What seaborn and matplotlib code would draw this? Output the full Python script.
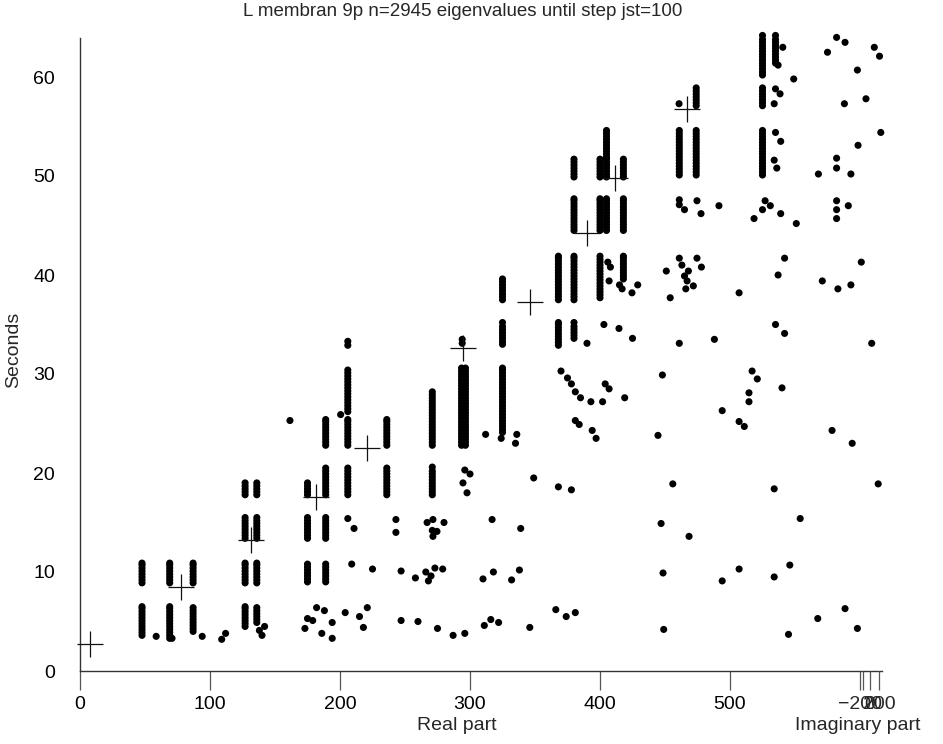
import matplotlib
matplotlib.use("Agg")
import matplotlib.pyplot as plt
import seaborn as sns
import pandas as pd

# ---------------- data ----------------
title = "L membran 9p n=2945 eigenvalues until step jst=100"

# stacked runs of eigenvalues: x (real part) and the seconds at which they appear
run_x = [47.7, 47.7, 69, 69, 87, 87,
         127, 127, 127, 127, 136, 136, 136, 136,
         175, 175, 175, 189, 189, 189, 189,
         206, 206, 206, 206, 236, 236, 271, 271,
         294, 293.5, 296.5, 325, 325, 325, 368, 368,
         380, 380, 380, 380, 400, 400, 400, 405, 405, 405, 418, 418, 418,
         461, 474, 474, 525, 525, 525, 535]
run_y = [
    [8.9, 9.2, 9.5, 9.8, 10.1, 10.4, 10.7, 10.9],
    [3.6, 3.9, 4.2, 4.5, 4.8, 5.1, 5.4, 5.7, 6.0, 6.3, 6.5],
    [8.9, 9.2, 9.5, 9.8, 10.1, 10.4, 10.7, 10.9],
    [3.3, 3.6, 3.9, 4.2, 4.5, 4.8, 5.1, 5.4, 5.7, 6.0, 6.3, 6.5],
    [8.9, 9.2, 9.5, 9.8, 10.1, 10.4, 10.7, 10.9],
    [4.0, 4.3, 4.6, 4.9, 5.2, 5.5, 5.8, 6.1, 6.4],
    [17.8, 18.1, 18.4, 18.7, 19.0],
    [13.4, 13.7, 14.0, 14.3, 14.6, 14.9, 15.2, 15.5],
    [8.9, 9.2, 9.5, 9.8, 10.1, 10.4, 10.7, 10.9],
    [4.5, 4.8, 5.1, 5.4, 5.7, 6.0, 6.3, 6.5],
    [17.8, 18.1, 18.4, 18.7, 19.0],
    [13.4, 13.7, 14.0, 14.3, 14.6, 14.9, 15.2, 15.5],
    [8.9, 9.2, 9.5, 9.8, 10.1, 10.4, 10.7, 10.9],
    [4.9, 5.2, 5.5, 5.8, 6.1, 6.4],
    [17.8, 18.1, 18.4, 18.7, 19.0],
    [13.4, 13.7, 14.0, 14.3, 14.6, 14.9, 15.2, 15.5],
    [9.0, 9.3, 9.6, 9.9, 10.2, 10.5, 10.8],
    [22.8, 23.1, 23.4, 23.7, 24.0, 24.3, 24.6, 24.9, 25.2, 25.4],
    [17.8, 18.1, 18.4, 18.7, 19.0, 19.3, 19.6, 19.9, 20.2, 20.5],
    [13.4, 13.7, 14.0, 14.3, 14.6, 14.9, 15.2, 15.5],
    [9.0, 9.3, 9.6, 9.9, 10.2, 10.5, 10.8],
    [32.9, 33.3],
    [26.2, 26.5, 26.8, 27.1, 27.4, 27.7, 28.0, 28.3, 28.6, 28.9, 29.2, 29.5, 29.8, 30.1, 30.4],
    [22.8, 23.1, 23.4, 23.7, 24.0, 24.3, 24.6, 24.9, 25.2, 25.4],
    [17.8, 18.1, 18.4, 18.7, 19.0, 19.3, 19.6, 19.9, 20.2, 20.5],
    [22.8, 23.1, 23.4, 23.7, 24.0, 24.3, 24.6, 24.9, 25.2, 25.4],
    [17.8, 18.1, 18.4, 18.7, 19.0, 19.3, 19.6, 19.9, 20.2, 20.5],
    [22.8, 23.1, 23.4, 23.7, 24.0, 24.3, 24.6, 24.9, 25.2, 25.5, 25.8, 26.1, 26.4, 26.7, 27.0, 27.3, 27.6, 27.9, 28.2],
    [17.8, 18.1, 18.4, 18.7, 19.0, 19.3, 19.6, 19.9, 20.2, 20.6],
    [33.1, 33.5],
    [22.8, 23.1, 23.4, 23.7, 24.0, 24.3, 24.6, 24.9, 25.2, 25.5, 25.8, 26.1, 26.4, 26.7, 27.0, 27.3, 27.6, 27.9, 28.2, 28.5, 28.8, 29.1, 29.4, 29.7, 30.0, 30.3, 30.6],
    [22.8, 23.1, 23.4, 23.7, 24.0, 24.3, 24.6, 24.9, 25.2, 25.5, 25.8, 26.1, 26.4, 26.7, 27.0, 27.3, 27.6, 27.9, 28.2, 28.5, 28.8, 29.1, 29.4, 29.7, 30.0, 30.3, 30.6],
    [37.5, 37.8, 38.1, 38.4, 38.7, 39.0, 39.3, 39.6],
    [33.0, 33.3, 33.6, 33.9, 34.2, 34.5, 34.8, 35.2],
    [24.1, 24.4, 24.7, 25.0, 25.3, 25.6, 25.9, 26.2, 26.5, 26.8, 27.1, 27.4, 27.7, 28.0, 28.3, 28.6, 28.9, 29.2, 29.5, 29.8, 30.1, 30.4, 30.6],
    [37.5, 37.8, 38.1, 38.4, 38.7, 39.0, 39.3, 39.6, 39.9, 40.2, 40.5, 40.8, 41.1, 41.4, 41.7, 41.9],
    [32.9, 33.2, 33.5, 33.8, 34.1, 34.4, 34.7, 35.0, 35.2],
    [49.9, 50.2, 50.5, 50.8, 51.1, 51.4, 51.7],
    [44.5, 44.8, 45.1, 45.4, 45.7, 46.0, 46.3, 46.6, 46.9, 47.2, 47.5, 47.7],
    [37.5, 37.8, 38.1, 38.4, 38.7, 39.0, 39.3, 39.6, 39.9, 40.2, 40.5, 40.8, 41.1, 41.4, 41.7, 41.9],
    [33.6, 33.9, 34.2, 34.5, 34.8, 35.2],
    [49.9, 50.2, 50.5, 50.8, 51.1, 51.4, 51.7],
    [44.5, 44.8, 45.1, 45.4, 45.7, 46.0, 46.3, 46.6, 46.9, 47.2, 47.5, 47.7],
    [37.7, 38.0, 38.3, 38.6, 38.9, 39.2, 39.5, 39.8, 40.1, 40.4, 40.7, 41.0, 41.3, 41.6, 41.9],
    [51.9, 52.2, 52.5, 52.8, 53.1, 53.4, 53.7, 54.0, 54.3, 54.6],
    [49.9, 50.2, 50.5, 50.8, 51.1, 51.4, 51.7],
    [44.5, 44.8, 45.1, 45.4, 45.7, 46.0, 46.3, 46.6, 46.9, 47.2, 47.5, 47.7],
    [49.9, 50.2, 50.5, 50.8, 51.1, 51.4, 51.7],
    [44.5, 44.8, 45.1, 45.4, 45.7, 46.0, 46.3, 46.6, 46.9, 47.2, 47.5, 47.7],
    [39.6, 39.9, 40.2, 40.5, 40.8, 41.1, 41.4, 41.7, 41.9],
    [50.1, 50.4, 50.7, 51.0, 51.3, 51.6, 51.9, 52.2, 52.5, 52.8, 53.1, 53.4, 53.7, 54.0, 54.3, 54.6],
    [57.1, 57.4, 57.7, 58.0, 58.3, 58.6, 58.9],
    [50.1, 50.4, 50.7, 51.0, 51.3, 51.6, 51.9, 52.2, 52.5, 52.8, 53.1, 53.4, 53.7, 54.0, 54.3, 54.6],
    [60.2, 60.5, 60.8, 61.1, 61.4, 61.7, 62.0, 62.3, 62.6, 62.9, 63.2, 63.5, 63.8, 64.2],
    [57.1, 57.4, 57.7, 58.0, 58.3, 58.6, 58.9],
    [50.1, 50.4, 50.7, 51.0, 51.3, 51.6, 51.9, 52.2, 52.5, 52.8, 53.1, 53.4, 53.7, 54.0, 54.3, 54.6],
    [61.4, 61.7, 62.0, 62.3, 62.6, 62.9, 63.2, 63.5, 63.8, 64.2],
]

# isolated eigenvalues (real part, seconds)
single_x = [58.6, 94, 109, 112, 138, 142, 140, 70.8,
            161.5, 200.5, 209, 225, 206, 210.8,
            173, 175, 179, 182, 188, 186, 194, 194, 204, 215, 218, 221,
            243, 243, 267, 271.5, 271, 274.6, 280, 271.5,
            296, 300, 294.6, 297.7, 312, 324, 336, 335, 349, 317, 339,
            247, 258, 266, 270, 273, 279, 268, 310, 318, 332, 338,
            247, 260, 275, 287, 296, 311, 316, 322, 346,
            366, 374, 381, 368, 378,
            381, 384, 394, 397,
            370, 375, 378, 381, 385, 393, 402, 404, 407, 419,
            403, 414.6, 425, 390, 406, 408, 407, 415, 417, 424.6, 429,
            461, 461, 465, 474.6, 477.7, 491.5, 461, 463, 474.6, 478, 451, 468, 465, 467, 466, 471.8, 454, 507, 461, 488, 460.8,
            540.6, 537, 535, 538.5, 534, 535, 539, 534, 536, 549,
            527, 531, 525, 518.5, 539, 551, 542, 537, 535, 542,
            582, 588.5, 575, 611, 615, 598, 588, 604.6, 616, 598.5, 582, 582, 568, 593, 582, 582, 582, 591,
            601, 571, 583, 593, 609,
            448, 517, 521, 540, 514.6, 514.6, 494, 507, 511, 444.6, 578.5, 594,
            456, 534, 614, 447, 468.5, 554, 448.5, 494, 507, 534, 546,
            449, 545, 567.5, 588.5, 598]
single_y = [3.5, 3.5, 3.2, 3.8, 4.1, 4.5, 3.6, 3.3,
            25.3, 25.9, 10.8, 10.3, 15.4, 14.4,
            4.3, 5.3, 5.1, 6.4, 6.1, 3.8, 4.9, 3.3, 5.9, 5.5, 4.4, 6.4,
            15.3, 14.0, 15.0, 15.3, 14.2, 14.1, 15.0, 13.6,
            20.3, 19.9, 19.0, 18.0, 23.9, 23.5, 23.9, 23.0, 19.5, 15.3, 14.4,
            10.1, 9.4, 10.0, 9.6, 10.4, 10.3, 9.1, 9.3, 10.0, 9.2, 10.2,
            5.1, 5.0, 4.3, 3.6, 3.8, 4.6, 5.2, 4.9, 4.4,
            6.2, 5.5, 5.9, 18.6, 18.3,
            25.3, 24.9, 24.3, 23.5,
            30.3, 29.6, 29.0, 28.2, 27.6, 27.2, 27.2, 29.0, 28.5, 27.6,
            35.0, 34.6, 33.6, 33.1, 41.3, 40.8, 39.4, 39.0, 38.6, 38.2, 39.0,
            47.6, 47.1, 46.6, 47.5, 46.2, 47.0, 41.7, 41.0, 41.7, 40.8, 40.4, 40.4, 39.9, 39.4, 38.6, 38.9, 37.7, 38.2, 33.1, 33.5, 57.3,
            63.0, 61.2, 58.8, 58.3, 57.3, 54.4, 53.5, 51.6, 50.8, 59.8,
            47.5, 47.0, 46.6, 45.7, 46.2, 45.2, 41.7, 40.0, 35.0, 34.1,
            64.0, 63.5, 62.5, 63.0, 62.1, 60.7, 57.3, 57.8, 54.4, 53.1, 51.8, 50.8, 50.2, 50.2, 47.5, 46.6, 45.7, 47.0,
            41.3, 39.4, 38.6, 39.0, 33.1,
            29.9, 30.3, 29.5, 28.6, 28.1, 27.2, 26.3, 25.2, 24.7, 23.8, 24.3, 23.0,
            18.9, 18.4, 18.9, 14.9, 13.6, 15.4, 9.9, 9.1, 10.3, 9.5, 10.7,
            4.2, 3.7, 5.3, 6.3, 4.3]

# step markers (+)
step_x = [7.7, 78, 131.5, 181.5, 221, 294.6, 346, 390, 411.5, 467]
step_y = [2.7, 8.5, 13.2, 17.6, 22.5, 32.6, 37.3, 44.2, 49.8, 56.8]

real_ticks = [0, 100, 200, 300, 400, 500]
sec_ticks = [0, 10, 20, 30, 40, 50, 60]
imag_ticks = [-200, -145, 0, 200]
imag_labels = ["\u2212200", "", "0", "200"]

# ---------------- build frames ----------------
dx, dy = [], []
for xv, ys in zip(run_x, run_y):
    for yv in ys:
        dx.append(xv)
        dy.append(yv)
dots = pd.DataFrame({"real": dx + single_x, "sec": dy + single_y})
steps = pd.DataFrame({"real": step_x, "sec": step_y})

# ---------------- plot ----------------
sns.set_theme(style="white")
plt.rcParams['font.family'] = ['Liberation Sans', 'DejaVu Sans']

W, H = 943, 744
fig = plt.figure(figsize=(W / 100, H / 100), dpi=100)
ax = fig.add_axes([80 / W, 73 / H, 802 / W, 633 / H])

sns.scatterplot(data=dots, x="real", y="sec", ax=ax, color="black",
                s=26, edgecolor="none", linewidth=0, clip_on=False, zorder=3)
sns.scatterplot(data=steps, x="real", y="sec", ax=ax, marker="+",
                color="#111111", s=330, linewidth=0.9, clip_on=False, zorder=4)

ax.set_xlim(0, 802 / 1.3)
ax.set_ylim(0, 633 / 9.9)
ax.set_xticks(real_ticks)
ax.set_yticks(sec_ticks)
ax.set_xlabel("")
ax.set_ylabel("")
for s in ["top", "right"]:
    ax.spines[s].set_visible(False)
for s in ["left", "bottom"]:
    ax.spines[s].set_color("#333333")
    ax.spines[s].set_linewidth(1.0)
ax.tick_params(axis="both", direction="out", length=14, width=0.9,
               color="#555555", labelsize=14, pad=4, labelcolor="black")

# imaginary-part axis squeezed at the right end of the bottom axis
ax2 = ax.twiny()
ax2.set_xlim(-16366, 256)
ax2.xaxis.set_ticks_position("bottom")
ax2.xaxis.set_label_position("bottom")
for s in ax2.spines.values():
    s.set_visible(False)
ax2.set_xticks(imag_ticks)
ax2.set_xticklabels(imag_labels)
ax2.tick_params(axis="x", direction="out", length=14, width=0.9,
                color="#555555", labelsize=14, pad=4)

fig.text(457 / W, 1 - 726 / H, "Real part", ha="center", va="center", fontsize=14)
fig.text(858 / W, 1 - 726 / H, "Imaginary part", ha="center", va="center", fontsize=14)
fig.text(14 / W, 1 - 350 / H, "Seconds", ha="center", va="center", fontsize=14, rotation=90)
fig.text(463 / W, 1 - 12 / H, title, ha="center", va="center", fontsize=13.5)

fig.savefig("out.png", dpi=100)
